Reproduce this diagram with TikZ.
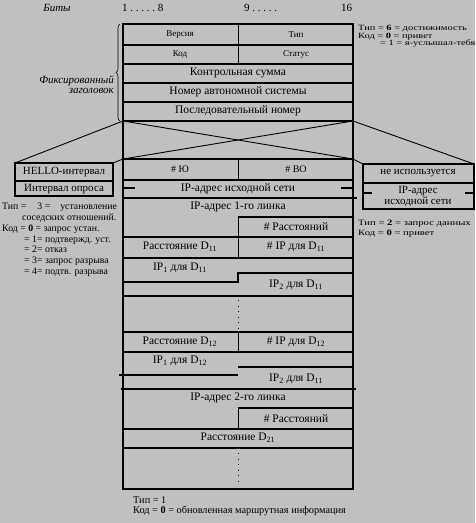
\documentclass[tikz,border=0pt]{standalone}
\usepackage{fontspec}
\setmainfont{Liberation Serif}
\newfontfamily\widefont[FakeStretch=1.3]{Liberation Serif}
\usetikzlibrary{decorations.pathreplacing}
\definecolor{bggray}{RGB}{192,192,192}

\tikzset{
  field/.style={font=\fontsize{11.5}{12}\selectfont, inner sep=0pt},
  smallfield/.style={font=\fontsize{9}{10}\selectfont, inner sep=0pt},
  note/.style={align=left, anchor=north west, inner sep=0pt},
  frame/.style={line width=1.8pt},
  row/.style={line width=1.3pt},
  divider/.style={line width=0.7pt},
  callout/.style={line width=0.9pt},
  dots/.style={line width=1pt, dash pattern=on 1pt off 4.5pt},
}

\begin{document}
\begin{tikzpicture}[x=1pt, y=-1pt]
	\fill[bggray] (0,0) rectangle (475,523);
	\useasboundingbox (0,0) rectangle (475,523);
	
	%bits
	\node[field, font=\itshape\fontsize{11}{12}\selectfont] (bits) at (57,8) {Биты};
	\node[field, anchor=west, font=\fontsize{11}{12}\selectfont] (b1) at (122,8) {1 .\ .\ .\ .\ .\ 8};
	\node[field, anchor=west, font=\fontsize{11}{12}\selectfont] (b9) at (244,8) {9 .\ .\ .\ .\ .};
	\node[field, anchor=west, font=\fontsize{11}{12}\selectfont] (b16) at (341,8) {16};
	
	%frame
	\draw[frame] (123,24) rectangle (353,489);
	
	%fixed header
	\foreach \y in {45,64,83,102,121} \draw[row] (123,\y) -- (353,\y);
	\draw[divider] (238,24) -- (238,64);
	\node[smallfield] (ver) at (180,35) {Версия};
	\node[smallfield] (type) at (296,35) {Тип};
	\node[smallfield] (code) at (180,54) {Код};
	\node[smallfield] (status) at (296,54) {Статус};
	\node[field] (chksum) at (238,73) {Контрольная сумма};
	\node[field] (asnum) at (238,92) {Номер автономной системы};
	\node[field] (seqnum) at (238,111) {Последовательный номер};
	\draw[decorate, decoration={brace, amplitude=4pt}, line width=0.6pt] (120,121) -- (120,24);
	\node[field, align=right, anchor=east, font=\itshape\fontsize{11}{10}\selectfont] (fixed) at (114,85) {Фиксированный\\заголовок};
	
	%cross
	\draw[callout] (123,121) -- (353,159);
	\draw[callout] (353,121) -- (123,159);
	
	%hello box
	\draw[row] (15,163) rectangle (113,196);
	\draw[row] (15,181) -- (113,181);
	\node[field, font=\fontsize{11}{12}\selectfont] (hello) at (64,172) {HELLO-интервал};
	\node[field, font=\fontsize{11}{12}\selectfont] (poll) at (64,189) {Интервал опроса};
	\draw[callout] (123,121) -- (15,163);
	\draw[callout] (123,159) -- (113,163);
	
	%unused box
	\draw[row] (363,164) rectangle (474,209);
	\draw[row] (363,183) -- (474,183);
	\draw[row] (363,193) -- (372,193);
	\draw[row] (465,193) -- (474,193);
	\node[field, font=\fontsize{11}{12}\selectfont] (unused) at (418,173) {не используется};
	\node[field, align=center, font=\fontsize{11}{11}\selectfont] (srcnet2) at (418,196) {IP-адрес\\исходной сети};
	\draw[callout] (353,121) -- (474,164);
	\draw[callout] (353,159) -- (363,164);
	
	%hello fields
	\foreach \y in {159,180,198} \draw[row] (123,\y) -- (353,\y);
	\draw[row] (353,198) -- (357,198);
	\draw[divider] (238,159) -- (238,180);
	\node[smallfield, font=\fontsize{10}{10}\selectfont] (io) at (180,169) {\# Ю};
	\node[smallfield, font=\fontsize{10}{10}\selectfont] (vo) at (296,169) {\# ВО};
	\draw[row] (123,188) -- (135,188);
	\draw[row] (341,188) -- (353,188);
	\node[field] (srcnet) at (238,189) {IP-адрес исходной сети};
	
	%first link
	\node[field] (link1) at (238,207) {IP-адрес 1-го линка};
	\draw[row] (238,217) -- (353,217);
	\draw[divider] (238,217) -- (238,258);
	\node[field] (ndist1) at (296,227) {\# Расстояний};
	\draw[row] (123,237) -- (353,237);
	\node[field] (d11) at (180,247) {Расстояние D\textsubscript{11}};
	\node[field] (nip11) at (296,247) {\# IP для D\textsubscript{11}};
	\draw[row] (123,258) -- (353,258);
	\node[field] (ipa11) at (180,268) {IP\textsubscript{1} для D\textsubscript{11}};
	\draw[row] (123,282) -- (238,282) -- (238,273) -- (353,273);
	\node[field] (ipb11) at (296,285) {IP\textsubscript{2} для D\textsubscript{11}};
	\draw[row] (123,296) -- (353,296);
	\draw[dots] (238,300) -- (238,330);
	\draw[row] (123,332) -- (353,332);
	\draw[divider] (238,332) -- (238,352);
	\node[field] (d12) at (180,342) {Расстояние D\textsubscript{12}};
	\node[field] (nip12) at (296,342) {\# IP для D\textsubscript{12}};
	\draw[row] (123,352) -- (353,352);
	\node[field] (ipa12) at (180,361) {IP\textsubscript{1} для D\textsubscript{12}};
	\draw[row] (119,375) -- (238,375);
	\draw[row] (238,367) -- (353,367);
	\node[field] (ipb12) at (296,379) {IP\textsubscript{2} для D\textsubscript{11}};
	\draw[line width=2.2pt] (121,389) -- (356,389);
	
	%second link
	\node[field] (link2) at (238,398) {IP-адрес 2-го линка};
	\draw[row] (238,408) -- (353,408);
	\draw[divider] (238,408) -- (238,429);
	\node[field] (ndist2) at (296,419) {\# Расстояний};
	\draw[row] (123,429) -- (353,429);
	\node[field] (d21) at (238,438) {Расстояние D\textsubscript{21}};
	\draw[row] (123,448) -- (353,448);
	\draw[dots] (238,453) -- (238,484);
	
	%notes
	\node[note, font=\widefont\fontsize{8}{7.5}\selectfont] (reach) at (358,25)
	  {Тип = {\bfseries 6} = достижимость\\Код = {\bfseries 0} = привет\\\hspace*{22pt}= 1 = я-услышал-тебя};
	\node[note, font=\widefont\fontsize{8.2}{10}\selectfont] (poll2) at (358,220)
	  {Тип = {\bfseries 2} = запрос данных\\Код = {\bfseries 0} = привет};
	\node[note, font=\fontsize{9.8}{10.8}\selectfont] (hello3) at (2,203)
	  {Тип =\hspace{11pt}3 =\hspace{10pt}установление\\
	   \hspace*{20pt}соседских отношений.\\
	   Код = {\bfseries 0} = запрос устан.\\
	   \hspace*{22pt}= 1= подтвержд. уст.\\
	   \hspace*{22pt}= 2= отказ\\
	   \hspace*{22pt}= 3= запрос разрыва\\
	   \hspace*{22pt}= 4= подтв. разрыва};
	\node[note, font=\fontsize{10.3}{10.5}\selectfont] (update) at (133,496)
	  {Тип = 1\\Код = {\bfseries 0} = обновленная маршрутная информация};
\end{tikzpicture}
\end{document}
